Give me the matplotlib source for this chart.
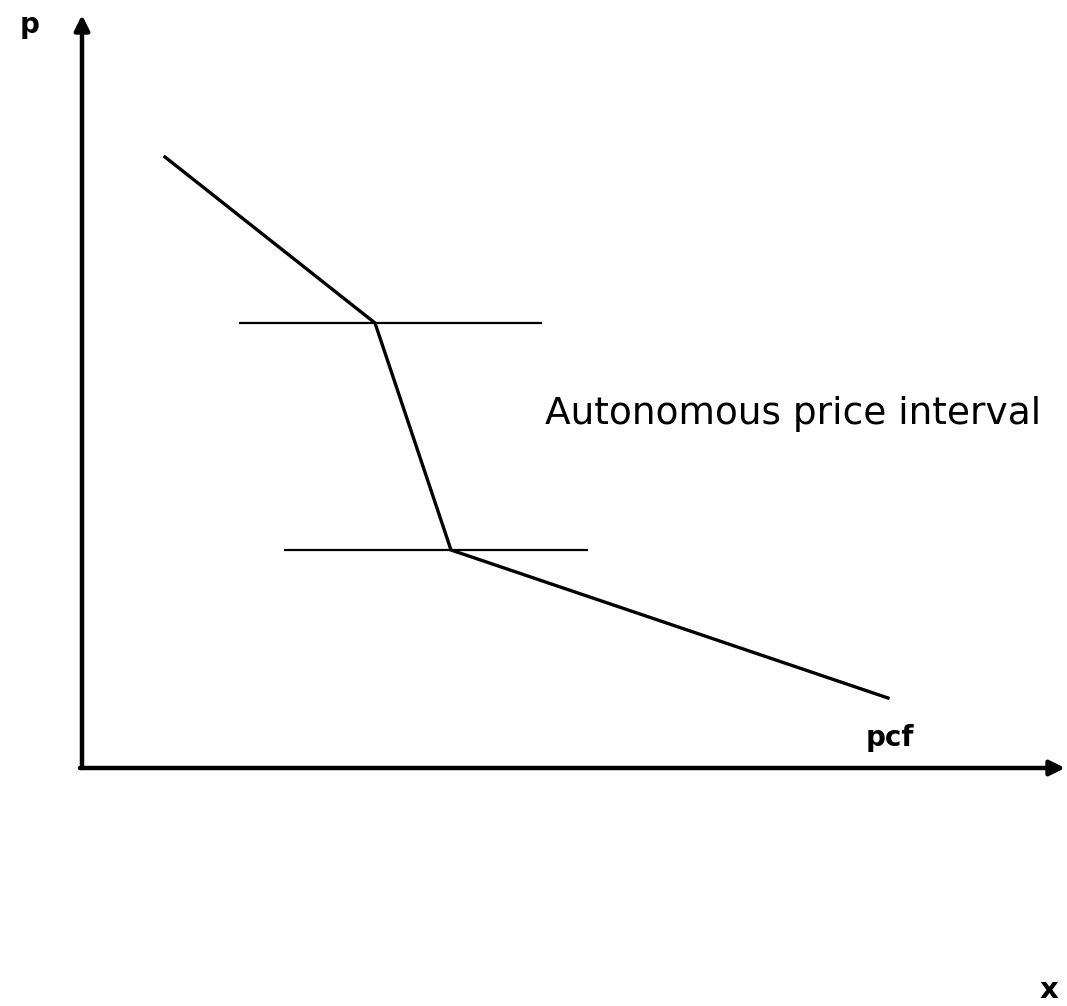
import matplotlib
matplotlib.use("Agg")
import matplotlib.pyplot as plt

# Data (units: quantity x, price p)
pcf_x = [83, 293, 369, 806]
pcf_p = [611, 445, 218, 70]
upper_band_p = 445
upper_band_x = [158, 459]
lower_band_p = 218
lower_band_x = [203, 505]

W, H = 1067, 1006
fig = plt.figure(figsize=(W / 100, H / 100), dpi=100)
ox, oy = 82, 768
xmax, ymax = 983, 753
ax = fig.add_axes([ox / W, (H - oy) / H, xmax / W, ymax / H])
ax.set_xlim(0, xmax)
ax.set_ylim(0, ymax)
ax.axis("off")

ax.plot(pcf_x, pcf_p, color="black", lw=2.4, solid_joinstyle="miter", clip_on=False)
ax.plot(upper_band_x, [upper_band_p] * 2, color="black", lw=1.6)
ax.plot(lower_band_x, [lower_band_p] * 2, color="black", lw=1.6)

arrow = dict(arrowstyle="-|>,head_length=0.9,head_width=0.45", color="black", lw=3.2,
             shrinkA=0, shrinkB=0)
ax.annotate("", xy=(0, ymax), xytext=(0, 0), arrowprops=arrow, annotation_clip=False)
ax.annotate("", xy=(xmax, 0), xytext=(-2, 0), arrowprops=arrow, annotation_clip=False)

font = ["DejaVu Sans"]
ax.text(-52, ymax - 10, "p", fontsize=20, fontweight="bold", ha="center", va="center",
        family=font)
ax.text(967, -222, "x", fontsize=21, fontweight="bold", ha="center", va="center",
        family=font)
ax.text(463, 354, "Autonomous price interval", fontsize=27, ha="left", va="center",
        family=font)
ax.text(808, 30, "pcf", fontsize=20, fontweight="bold", ha="center", va="center",
        family=font)

fig.savefig("out.png", dpi=100, facecolor="white")
